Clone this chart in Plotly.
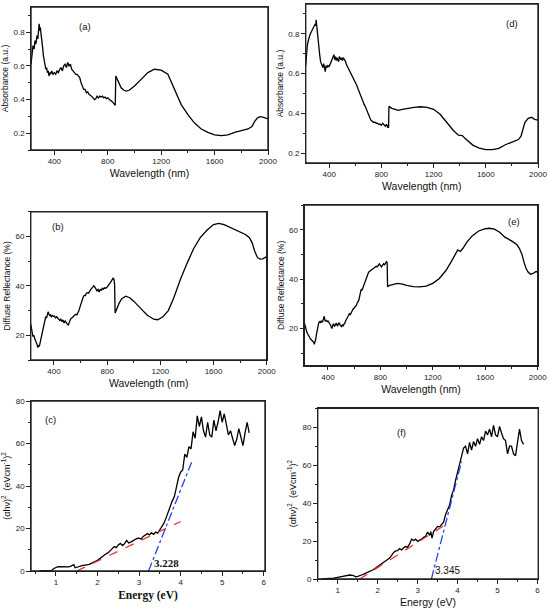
#!/usr/bin/env python3
"""
Absorbance / diffuse reflectance / Tauc plots, two samples side by side
"""
import plotly.graph_objects as go
from plotly.subplots import make_subplots

# (a) absorbance, sample 1: (wavelength nm, absorbance a.u.)
abs1 = [(225, 0.61), (232, 0.66), (240, 0.72), (248, 0.70), (255, 0.75), (262, 0.73), (270, 0.78), (276, 0.76),
        (282, 0.83), (286, 0.85), (290, 0.81), (295, 0.83), (300, 0.79), (306, 0.76), (312, 0.71), (318, 0.66),
        (324, 0.63), (330, 0.61), (336, 0.58), (342, 0.59), (348, 0.56), (354, 0.57), (360, 0.54), (366, 0.56),
        (372, 0.55), (380, 0.57), (390, 0.55), (400, 0.56), (410, 0.55), (420, 0.57), (430, 0.56), (440, 0.58),
        (450, 0.59), (460, 0.57), (470, 0.60), (480, 0.61), (490, 0.59), (500, 0.62), (510, 0.60), (520, 0.61),
        (530, 0.58), (540, 0.57), (550, 0.56), (560, 0.55), (570, 0.55), (580, 0.54), (590, 0.53), (600, 0.50),
        (610, 0.48), (620, 0.46), (630, 0.46), (640, 0.44), (650, 0.445), (660, 0.43), (670, 0.425), (680, 0.42),
        (690, 0.41), (700, 0.40), (710, 0.405), (720, 0.42), (730, 0.41), (740, 0.42), (750, 0.415), (760, 0.42),
        (770, 0.41), (780, 0.415), (790, 0.405), (800, 0.41), (810, 0.40), (820, 0.395), (830, 0.39), (840, 0.38),
        (850, 0.37), (856, 0.365), (860, 0.54), (880, 0.50), (900, 0.47), (920, 0.455), (940, 0.45), (960, 0.455),
        (1000, 0.48), (1050, 0.52), (1100, 0.56), (1150, 0.58), (1200, 0.575), (1250, 0.55), (1300, 0.46),
        (1350, 0.37), (1400, 0.31), (1450, 0.26), (1500, 0.225), (1550, 0.205), (1600, 0.19), (1650, 0.185),
        (1700, 0.19), (1750, 0.205), (1800, 0.215), (1850, 0.225), (1880, 0.24), (1900, 0.27), (1920, 0.29),
        (1940, 0.298), (1960, 0.295), (1980, 0.29), (2000, 0.285)]

# (d) absorbance, sample 2
abs2 = [(220, 0.64), (226, 0.70), (232, 0.74), (238, 0.76), (244, 0.78), (250, 0.79), (256, 0.80), (262, 0.81),
        (268, 0.82), (274, 0.83), (280, 0.835), (286, 0.84), (292, 0.85), (297, 0.84), (300, 0.87), (304, 0.84),
        (310, 0.80), (316, 0.77), (322, 0.72), (328, 0.69), (334, 0.66), (340, 0.65), (346, 0.645), (352, 0.63),
        (358, 0.65), (364, 0.63), (370, 0.61), (376, 0.64), (382, 0.63), (390, 0.64), (398, 0.635), (406, 0.645),
        (414, 0.66), (422, 0.675), (430, 0.68), (436, 0.695), (442, 0.67), (448, 0.685), (454, 0.665), (460, 0.68),
        (466, 0.67), (472, 0.66), (478, 0.685), (484, 0.675), (490, 0.67), (496, 0.68), (502, 0.665), (508, 0.68),
        (514, 0.675), (520, 0.665), (526, 0.66), (532, 0.645), (540, 0.635), (548, 0.625), (556, 0.61), (564, 0.60),
        (572, 0.59), (580, 0.58), (588, 0.575), (596, 0.56), (604, 0.55), (612, 0.54), (620, 0.525), (628, 0.51),
        (636, 0.50), (644, 0.48), (652, 0.47), (660, 0.455), (668, 0.445), (676, 0.435), (684, 0.42), (692, 0.41),
        (700, 0.395), (710, 0.38), (720, 0.365), (730, 0.36), (740, 0.355), (750, 0.355), (760, 0.35), (770, 0.35),
        (780, 0.345), (790, 0.345), (800, 0.34), (810, 0.35), (820, 0.34), (830, 0.335), (840, 0.345), (848, 0.33),
        (855, 0.33), (858, 0.435), (880, 0.425), (900, 0.42), (930, 0.415), (960, 0.42), (1000, 0.425),
        (1050, 0.43), (1100, 0.433), (1150, 0.43), (1200, 0.42), (1250, 0.395), (1300, 0.355), (1350, 0.315),
        (1390, 0.29), (1410, 0.29), (1420, 0.288), (1440, 0.274), (1470, 0.255), (1500, 0.24), (1550, 0.225),
        (1600, 0.217), (1650, 0.217), (1700, 0.224), (1750, 0.242), (1800, 0.255), (1850, 0.268), (1870, 0.285),
        (1885, 0.32), (1900, 0.355), (1925, 0.375), (1950, 0.38), (1975, 0.37), (2000, 0.366)]

# (b) diffuse reflectance %, sample 1
refl1 = [(225, 24.5), (230, 22.5), (236, 21.0), (242, 19.5), (248, 20.0), (254, 18.5), (260, 18.0), (266, 17.2),
         (272, 16.5), (278, 15.0), (284, 16.0), (290, 15.5), (296, 17.0), (302, 18.5), (308, 20.0), (314, 21.5),
         (320, 23.5), (326, 25.0), (332, 26.5), (338, 27.5), (344, 27.0), (350, 28.5), (356, 29.5), (362, 28.5),
         (368, 28.0), (374, 28.3), (380, 27.5), (388, 28.0), (396, 27.6), (404, 27.8), (412, 27.0), (420, 27.5),
         (428, 27.0), (436, 26.8), (444, 26.0), (452, 26.5), (460, 25.5), (468, 26.2), (476, 25.0), (484, 25.8),
         (492, 25.0), (500, 24.5), (508, 24.2), (516, 25.5), (524, 26.5), (532, 27.0), (540, 27.2), (548, 27.8),
         (556, 28.2), (564, 28.5), (572, 28.3), (580, 29.0), (588, 30.0), (596, 31.5), (604, 33.0), (612, 34.5),
         (620, 35.5), (628, 36.2), (636, 36.0), (644, 37.0), (652, 37.2), (660, 37.0), (668, 38.0), (676, 38.5),
         (684, 39.0), (692, 39.5), (700, 40.0), (708, 39.5), (716, 38.8), (724, 38.0), (732, 38.5), (740, 37.5),
         (748, 38.5), (756, 38.2), (764, 39.0), (772, 38.6), (780, 39.2), (790, 39.0), (800, 39.5), (810, 40.5),
         (820, 41.0), (830, 41.8), (840, 42.5), (846, 43.2), (852, 42.5), (856, 40.5), (860, 29.0), (870, 30.5),
         (890, 33.0), (910, 34.8), (940, 35.8), (970, 35.2), (1000, 33.8), (1050, 31.0), (1100, 28.2),
         (1150, 26.5), (1180, 26.3), (1220, 27.5), (1260, 30.0), (1300, 35.0), (1350, 42.5), (1400, 49.0),
         (1450, 55.0), (1500, 59.5), (1550, 62.5), (1600, 64.8), (1640, 65.3), (1680, 64.8), (1720, 63.8),
         (1760, 62.5), (1800, 61.5), (1840, 60.8), (1870, 59.5), (1890, 57.5), (1910, 54.0), (1930, 51.5),
         (1950, 50.8), (1970, 50.9), (2000, 51.8)]

# (e) diffuse reflectance %, sample 2
refl2 = [(220, 22.5), (226, 21.0), (232, 19.8), (238, 18.8), (244, 18.0), (250, 17.2), (256, 16.7), (262, 16.3),
         (268, 15.8), (274, 15.4), (280, 15.0), (286, 14.6), (292, 14.5), (296, 13.6), (300, 14.3), (306, 15.5),
         (312, 17.5), (318, 19.8), (324, 21.5), (330, 22.3), (336, 22.8), (342, 22.5), (348, 23.0), (354, 22.6),
         (360, 22.8), (366, 23.8), (372, 25.0), (378, 23.2), (384, 23.0), (390, 23.3), (396, 22.8), (402, 23.0),
         (408, 22.6), (414, 22.0), (420, 21.5), (426, 20.5), (432, 20.2), (438, 21.5), (444, 21.8), (450, 21.0),
         (456, 21.3), (462, 22.2), (468, 21.6), (474, 21.0), (480, 22.0), (486, 22.4), (492, 21.5), (498, 21.2),
         (504, 20.8), (510, 21.6), (516, 21.0), (522, 21.8), (528, 22.0), (534, 23.0), (540, 23.6), (546, 24.5),
         (552, 25.0), (558, 25.8), (564, 26.0), (570, 25.5), (576, 26.5), (582, 27.0), (588, 27.5), (594, 28.0),
         (600, 28.2), (606, 28.8), (612, 29.2), (618, 29.5), (624, 30.5), (630, 31.0), (636, 31.5), (642, 33.0),
         (648, 35.0), (654, 36.0), (660, 35.5), (666, 36.5), (672, 37.5), (678, 38.5), (684, 39.5), (690, 40.0),
         (696, 40.8), (702, 41.8), (708, 42.5), (714, 43.0), (720, 43.3), (728, 43.8), (736, 44.0), (744, 44.2),
         (752, 44.5), (760, 44.7), (768, 45.2), (776, 45.0), (784, 45.8), (792, 46.2), (800, 45.6), (808, 45.0),
         (816, 45.6), (824, 46.2), (832, 45.8), (840, 46.8), (848, 47.2), (852, 46.5), (855, 37.0), (870, 37.5),
         (900, 38.0), (930, 38.3), (970, 38.0), (1000, 37.5), (1050, 37.0), (1100, 36.9), (1150, 37.2),
         (1200, 38.3), (1250, 40.3), (1300, 43.5), (1340, 47.0), (1370, 50.0), (1390, 51.8), (1410, 51.2),
         (1430, 52.5), (1460, 55.0), (1500, 57.5), (1550, 59.5), (1600, 60.4), (1630, 60.6), (1670, 60.2),
         (1710, 59.0), (1750, 57.0), (1800, 55.5), (1840, 54.0), (1860, 52.5), (1880, 50.0), (1895, 47.0),
         (1910, 44.5), (1925, 43.0), (1945, 42.0), (1965, 42.3), (1985, 43.0), (2000, 43.0)]

# (c) Tauc plot, sample 1: (energy eV, (ahv)^2)
tauc1 = [(0.6, 0), (0.8, 0), (0.85, 0), (0.9, 0.3), (0.95, 1.2), (1.0, 1.8), (1.05, 2.0), (1.1, 2.1), (1.15, 2.0),
         (1.2, 1.9), (1.25, 2.0), (1.3, 1.9), (1.35, 2.2), (1.4, 2.8), (1.43, 3.0), (1.46, 1.5), (1.5, 1.8),
         (1.55, 2.2), (1.6, 2.5), (1.65, 2.6), (1.7, 2.8), (1.75, 2.9), (1.8, 3.1), (1.85, 3.6), (1.9, 4.2),
         (1.95, 4.6), (2.0, 5.0), (2.05, 5.8), (2.1, 6.6), (2.15, 7.4), (2.2, 8.0), (2.25, 8.5), (2.3, 9.3),
         (2.35, 10.4), (2.4, 11.5), (2.45, 11.0), (2.5, 12.2), (2.55, 13.0), (2.6, 12.0), (2.65, 12.8),
         (2.7, 14.4), (2.75, 13.2), (2.8, 13.6), (2.85, 14.2), (2.9, 14.6), (2.95, 15.3), (3.0, 15.5), (3.05, 15.0),
         (3.1, 16.3), (3.15, 16.8), (3.2, 17.6), (3.25, 17.0), (3.3, 18.0), (3.35, 17.2), (3.4, 18.3),
         (3.45, 17.8), (3.5, 19.5), (3.55, 20.5), (3.6, 22.5), (3.65, 25.0), (3.7, 28.0), (3.75, 30.0),
         (3.8, 33.0), (3.85, 35.0), (3.9, 39.0), (3.95, 44.0), (4.0, 46.5), (4.05, 47.5), (4.1, 55.0),
         (4.15, 53.5), (4.2, 58.5), (4.25, 57.5), (4.3, 65.5), (4.35, 62.5), (4.4, 73.0), (4.45, 68.0),
         (4.5, 72.5), (4.55, 66.0), (4.6, 63.0), (4.65, 70.0), (4.7, 64.0), (4.75, 63.0), (4.8, 71.0),
         (4.85, 66.0), (4.9, 70.0), (4.95, 75.5), (5.0, 70.0), (5.05, 74.0), (5.1, 69.0), (5.15, 64.0),
         (5.2, 66.0), (5.25, 62.0), (5.3, 59.0), (5.35, 62.0), (5.4, 67.0), (5.45, 63.0), (5.5, 59.0),
         (5.55, 65.0), (5.6, 70.0), (5.65, 65.0)]

# (f) Tauc plot, sample 2
tauc2 = [(0.6, 0), (0.8, 0.1), (0.9, 0.4), (1.0, 0.9), (1.1, 1.3), (1.2, 1.7), (1.3, 2.1), (1.4, 1.8), (1.45, 1.2),
         (1.5, 1.4), (1.55, 1.6), (1.6, 2.1), (1.65, 2.6), (1.7, 3.0), (1.75, 3.4), (1.8, 3.9), (1.85, 4.5),
         (1.9, 5.0), (1.95, 5.8), (2.0, 6.5), (2.05, 7.2), (2.1, 8.0), (2.15, 8.5), (2.2, 9.2), (2.25, 10.0),
         (2.3, 11.0), (2.35, 12.5), (2.4, 14.0), (2.45, 14.8), (2.5, 15.0), (2.55, 16.0), (2.6, 15.3),
         (2.65, 16.5), (2.7, 17.1), (2.75, 16.8), (2.8, 18.5), (2.85, 21.0), (2.9, 20.3), (2.95, 21.0),
         (3.0, 19.8), (3.05, 20.5), (3.1, 21.0), (3.15, 22.0), (3.2, 22.5), (3.25, 24.8), (3.3, 23.0),
         (3.33, 25.0), (3.36, 21.5), (3.4, 25.0), (3.45, 26.5), (3.5, 27.7), (3.55, 27.5), (3.6, 28.5),
         (3.65, 30.0), (3.7, 34.0), (3.75, 37.0), (3.8, 39.0), (3.85, 44.0), (3.9, 47.0), (3.95, 52.0),
         (4.0, 56.5), (4.05, 60.0), (4.1, 64.0), (4.15, 69.0), (4.2, 70.0), (4.25, 66.0), (4.3, 72.0),
         (4.35, 68.0), (4.4, 72.5), (4.45, 70.0), (4.5, 74.0), (4.55, 71.0), (4.6, 75.0), (4.65, 73.0),
         (4.7, 78.0), (4.75, 76.0), (4.8, 79.0), (4.85, 75.0), (4.9, 81.0), (4.95, 76.0), (5.0, 75.0),
         (5.05, 80.5), (5.1, 77.0), (5.15, 74.0), (5.2, 73.0), (5.25, 66.0), (5.3, 70.0), (5.35, 70.0),
         (5.4, 66.0), (5.45, 65.0), (5.5, 72.0), (5.55, 79.0), (5.6, 73.0), (5.65, 71.0)]

# linear fits drawn on the Tauc plots (end points)
fit_low1 = [(1.5, 0), (4.0, 23.3)]
fit_edge1 = [(3.228, 0), (4.28, 52)]
fit_low2 = [(1.55, 0), (3.8, 30)]
fit_edge2 = [(3.345, 0), (4.1, 62)]
gap1 = 3.228
gap2 = 3.345

SANS = "Liberation Sans, Arial, sans-serif"
SERIF = "Liberation Serif, Times New Roman, serif"
FRAME = "#222"


def xy(points):
    return [p[0] for p in points], [p[1] for p in points]


fig = make_subplots(rows=3, cols=2)

for pts, r, c in [(abs1, 1, 1), (abs2, 1, 2), (refl1, 2, 1), (refl2, 2, 2), (tauc1, 3, 1), (tauc2, 3, 2)]:
    x, y = xy(pts)
    fig.add_trace(go.Scatter(x=x, y=y, mode="lines", line=dict(color="black", width=1.3),
                             showlegend=False, hoverinfo="skip"), row=r, col=c)

for pts, color, dash, c in [(fit_low1, "#e8312a", "dash", 1), (fit_edge1, "#2a3ff0", "dashdot", 1),
                            (fit_low2, "#e8312a", "dash", 2), (fit_edge2, "#2a3ff0", "dashdot", 2)]:
    x, y = xy(pts)
    fig.add_trace(go.Scatter(x=x, y=y, mode="lines", line=dict(color=color, width=1.3, dash=dash),
                             showlegend=False, hoverinfo="skip"), row=3, col=c)

W, H = 550, 609
# pixel boxes of each panel: left, right, top, bottom
boxes = {
    "": (31, 268, 7, 150),          # (a)
    "2": (305.7, 538, 4, 163),      # (d)
    "3": (30.7, 266.7, 211.7, 360),  # (b)
    "4": (304.3, 537.7, 205, 365.7),  # (e)
    "5": (31, 265, 401, 571),        # (c)
    "6": (317.7, 538.3, 408.3, 579),  # (f)
}

tick_font = dict(family=SANS, size=8, color="#222")
axis_common = dict(showline=True, linecolor=FRAME, linewidth=1.4, mirror=True, ticks="outside",
                   ticklen=3.5, tickwidth=1, tickcolor=FRAME, showgrid=False, zeroline=False,
                   tickfont=tick_font, automargin=False)

for k, (l, r, t, b) in boxes.items():
    fig.layout["xaxis" + k].update(domain=[l / W, r / W], **axis_common)
    fig.layout["yaxis" + k].update(domain=[1 - b / H, 1 - t / H], **axis_common)
    # closed frame round every panel
    fig.add_shape(type="rect", xref=f"x{k} domain", yref=f"y{k} domain", x0=0, x1=1, y0=0, y1=1,
                  line=dict(color=FRAME, width=1.4), fillcolor="rgba(0,0,0,0)", layer="above")

wl_title = dict(text="Wavelength (nm)", font=dict(family=SANS, size=10.5, color="#111"), standoff=4)
for k, yr, dt, ytitle in [("", [0.1, 0.95], 0.2, "Absorbance (a.u.)"),
                           ("2", [0.15, 0.95], 0.2, "Absorbance (a.u.)"),
                           ("3", [10, 70], 20, "Diffuse Reflectance (%)"),
                           ("4", [5, 70], 20, "Diffuse Reflectance (%)")]:
    x0 = 220 if k in ("2", "4") else 225
    fig.layout["xaxis" + k].update(range=[x0, 2000], tick0=0, dtick=400, title=wl_title,
                                   minor=dict(ticks="outside", ticklen=2, dtick=200, tick0=0, tickcolor=FRAME))
    fig.layout["yaxis" + k].update(range=yr, tick0=0, dtick=dt,
                                   title=dict(text=ytitle, font=dict(family=SANS, size=8.5, color="#111"),
                                              standoff=3),
                                   minor=dict(ticks="outside", ticklen=2, dtick=dt / 2, tick0=0, tickcolor=FRAME))

tauc_title = "(αhν)<sup>2</sup>  (eVcm<sup>-1</sup>)<sup>2</sup>"
fig.layout.xaxis5.update(range=[0.4, 6.03], dtick=1, tick0=0,
                         title=dict(text="<b>Energy (eV)</b>", font=dict(family=SERIF, size=11.5, color="#111"),
                                    standoff=4),
                         minor=dict(ticks="outside", ticklen=2, dtick=0.5, tick0=0, tickcolor=FRAME))
fig.layout.yaxis5.update(range=[0, 80], dtick=20, tick0=0,
                         title=dict(text=tauc_title, font=dict(family=SANS, size=9, color="#111"), standoff=6),
                         minor=dict(ticks="outside", ticklen=2, dtick=10, tick0=0, tickcolor=FRAME))
fig.layout.xaxis6.update(range=[0.5, 6.02], dtick=1, tick0=0,
                         title=dict(text="Energy (eV)", font=dict(family=SANS, size=10.5, color="#111"),
                                    standoff=4),
                         minor=dict(ticks="outside", ticklen=2, dtick=0.5, tick0=0, tickcolor=FRAME))
fig.layout.yaxis6.update(range=[0, 90], dtick=20, tick0=0,
                         title=dict(text=tauc_title, font=dict(family=SANS, size=9, color="#111"), standoff=4),
                         minor=dict(ticks="outside", ticklen=2, dtick=10, tick0=0, tickcolor=FRAME))

# panel letters and gap values
labels = [("x", "y", 630, 0.835, "(a)", SANS), ("x2", "y2", 1800, 0.85, "(d)", SANS),
          ("x3", "y3", 430, 64.2, "(b)", SANS), ("x4", "y4", 1817, 63.5, "(e)", SANS),
          ("x5", "y5", 0.86, 71.4, "(c)", SANS), ("x6", "y6", 2.6, 77.2, "(f)", SANS)]
for xr, yr, x, y, txt, fam in labels:
    fig.add_annotation(xref=xr, yref=yr, x=x, y=y, text=txt, showarrow=False,
                       font=dict(family=fam, size=9.5, color="#111"))

fig.add_annotation(xref="x5", yref="y5", x=gap1 + 0.08, y=3.8, text=f"<b>{gap1:.3f}</b>", showarrow=False,
                   xanchor="left", font=dict(family=SERIF, size=11, color="#111"))
fig.add_annotation(xref="x6", yref="y6", x=gap2 + 0.05, y=4.4, text=f"{gap2:.3f}", showarrow=False,
                   xanchor="left", font=dict(family=SANS, size=10, color="#111"))

fig.update_layout(width=W, height=H, margin=dict(l=0, r=0, t=0, b=0), plot_bgcolor="white",
                  paper_bgcolor="white", showlegend=False)

# the page body has a default 8px margin; drop it so the figure fills the window
fig.write_html("out.html", config={"displayModeBar": False},
               post_script="document.body.style.margin='0';")
